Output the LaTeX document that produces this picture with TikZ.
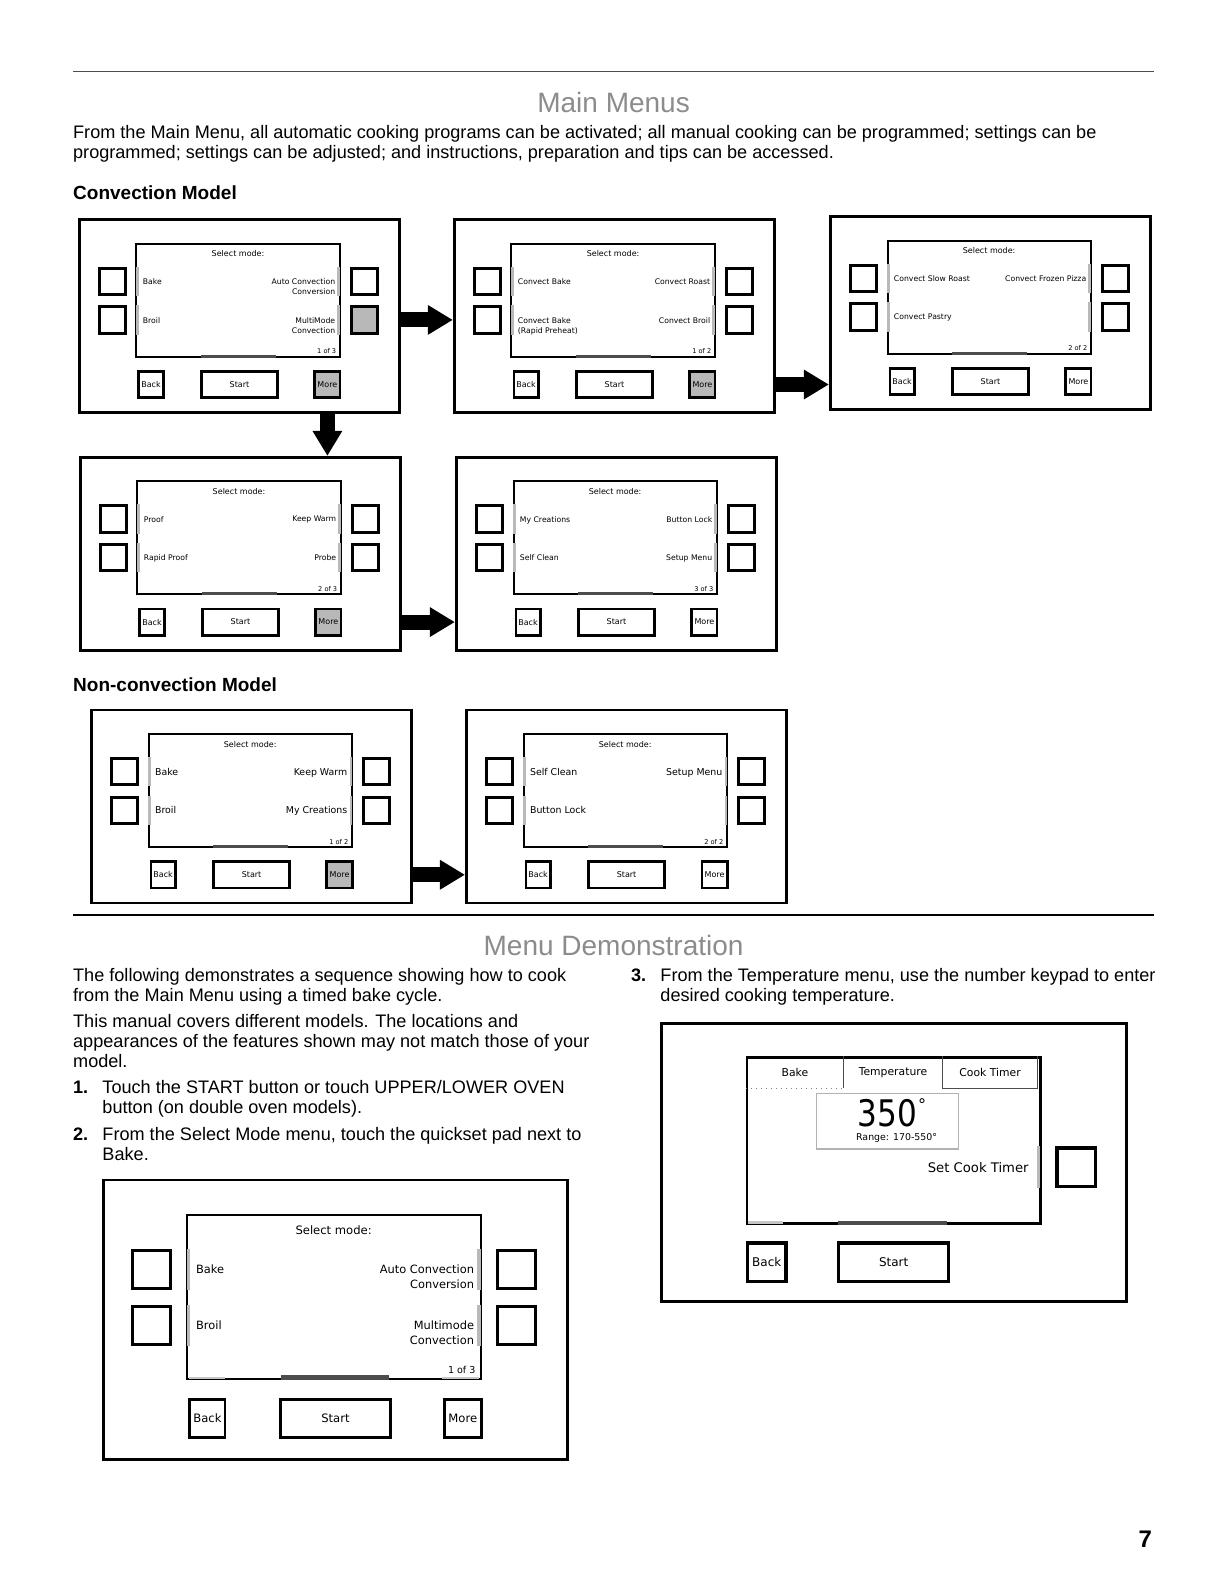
\documentclass[tikz,border=0pt]{standalone}
\usepackage{fontspec}
\setmainfont{Liberation Sans}
\newfontfamily\panelfont{DejaVu Sans}
\newfontfamily\numfont{DejaVu Sans}[FakeStretch=0.85]
\usetikzlibrary{arrows.meta,calc}

\definecolor{shadegray}{gray}{0.72}
\definecolor{titlegray}{gray}{0.55}

\newdimen\pxu
\pxu=0.50536pt

\tikzset{
  boxsize/.style 2 args={minimum width={(#1)*\pxu}, minimum height={(#2)*\pxu}},
  frame/.style={draw, line width=1.4pt, inner sep=0pt, anchor=north west},
  screen/.style={draw, line width=1pt, inner sep=0pt, anchor=north west},
  qbtn/.style={draw, line width=1.5pt, inner sep=0pt, anchor=north west},
  bbtn/.style={draw, line width=1.4pt, inner sep=0pt, anchor=north west},
  selbar/.style={draw=gray!55},
  scrollbar/.style={draw=black!70},
  lightbar/.style={draw=gray!45, line width=1.2pt},
  tabline/.style={draw=black!70, line width=0.5pt},
  bigarrow/.style={line width=7.5pt, -{Triangle[length=12.5pt,width=14pt]}},
  btnfont/.style={font=\panelfont\fontsize{\ptf pt}{\ptf pt}\selectfont},
  itemlab/.style={inner sep=0pt, font=\panelfont\fontsize{\pf pt}{\plf pt}\selectfont},
  pagelab/.style={inner sep=0pt, font=\panelfont\fontsize{\ppf pt}{\ppf pt}\selectfont},
  body/.style={inner sep=0pt, anchor=base west, font=\fontsize{9.05pt}{11pt}\selectfont},
  num/.style={inner sep=0pt, anchor=base west, font=\bfseries\fontsize{9.05pt}{11pt}\selectfont},
  heading/.style={inner sep=0pt, anchor=base west, font=\bfseries\fontsize{9.5pt}{11pt}\selectfont},
  title/.style={inner sep=0pt, anchor=base, text=titlegray, font=\fontsize{14pt}{16pt}\selectfont},
  more btn/.style={}, r2 btn/.style={}
}

% one control panel: name, left, top, scale, item font size
\newcommand{\menupanel}[5]{%
  \pgfmathsetmacro\ps{#4}%
  \pgfmathsetmacro\pf{#5}%
  \pgfmathsetmacro\plf{1.3*#5}%
  \pgfmathsetmacro\ptf{4*#4}%
  \pgfmathsetmacro\ppf{3.3*#4}%
  \node[frame, boxsize={317*\ps}{191*\ps}] (#1) at (#2,#3) {};
  \node[screen, boxsize={201*\ps}{112*\ps}] (#1-scr) at ({#2+57*\ps},{#3+24*\ps}) {};
  \node[qbtn, boxsize={26*\ps}{26*\ps}] (#1-l1) at ({#2+20*\ps},{#3+48*\ps}) {};
  \node[qbtn, boxsize={26*\ps}{26*\ps}] (#1-l2) at ({#2+20*\ps},{#3+86*\ps}) {};
  \node[qbtn, boxsize={26*\ps}{26*\ps}] (#1-r1) at ({#2+269*\ps},{#3+48*\ps}) {};
  \node[qbtn, r2 btn, boxsize={26*\ps}{26*\ps}] (#1-r2) at ({#2+269*\ps},{#3+86*\ps}) {};
  \node[bbtn, btnfont, boxsize={24*\ps}{26*\ps}] (#1-back) at ({#2+59*\ps},{#3+150*\ps}) {Back};
  \node[bbtn, btnfont, boxsize={75*\ps}{26*\ps}] (#1-start) at ({#2+121*\ps},{#3+150*\ps}) {Start};
  \node[bbtn, btnfont, more btn, boxsize={25*\ps}{26*\ps}] (#1-more) at ({#2+233*\ps},{#3+150*\ps}) {More};
  \node[btnfont, anchor=base, inner sep=0pt] (#1-head) at ($(#1-scr.north)+(0,14*\ps)$) {Select mode:};
  \foreach \side in {l1,l2}
    \draw[selbar, line width=1.2pt*\ps] ($(#1-scr.west |- #1-\side.north)+(2*\ps,0)$) -- ($(#1-scr.west |- #1-\side.south)+(2*\ps,0)$);
  \foreach \side in {r1,r2}
    \draw[selbar, line width=1.2pt*\ps] ($(#1-scr.east |- #1-\side.north)+(-2*\ps,0)$) -- ($(#1-scr.east |- #1-\side.south)+(-2*\ps,0)$);
  \draw[scrollbar, line width=1.4pt*\ps] ($(#1-scr.south west)+(65*\ps,-1.5*\ps)$) -- ++({74*\ps},0);
}

% texts on the screen: name, left 1, left 2, right 1, right 2, page
\newcommand{\menulabels}[6]{%
  \node[itemlab, anchor=north west, align=left] (#1-tl1) at ($(#1-scr.west |- #1-l1)+(7*\ps,-0.8*\pf)$) {#2};
  \node[itemlab, anchor=north west, align=left] (#1-tl2) at ($(#1-scr.west |- #1-l2)+(7*\ps,-0.8*\pf)$) {#3};
  \node[itemlab, anchor=north east, align=right] (#1-tr1) at ($(#1-scr.east |- #1-r1)+(-5*\ps,-0.8*\pf)$) {#4};
  \node[itemlab, anchor=north east, align=right] (#1-tr2) at ($(#1-scr.east |- #1-r2)+(-5*\ps,-0.8*\pf)$) {#5};
  \node[pagelab, anchor=base east] (#1-page) at ($(#1-scr.south east)+(-4*\ps,-4*\ps)$) {#6};
}

\begin{document}
\begin{tikzpicture}[x=0.50536pt, y=-0.50536pt]
\fill[white] (0,0) rectangle (1212,1568);
\useasboundingbox (0,0) rectangle (1212,1568);

% Main Menus
\draw[black!70, line width=0.7pt] (72,71) -- (1142,71);
\node[title] (main-title) at (607,111) {Main Menus};
\node[body] (intro1) at (72,137) {From the Main Menu, all automatic cooking programs can be activated; all manual cooking can be programmed; settings can be};
\node[body] (intro2) at (72,157) {programmed; settings can be adjusted; and instructions, preparation and tips can be accessed.};
\node[heading] (conv-head) at (72,197) {Convection Model};

\begin{scope}[r2 btn/.style={fill=shadegray}, more btn/.style={fill=shadegray}]
\menupanel{p1}{77}{216}{1}{3.85}
\menulabels{p1}{Bake}{Broil}{Auto Convection\\Conversion}{MultiMode\\Convection}{1 of 3}
\end{scope}

\begin{scope}[more btn/.style={fill=shadegray}]
\menupanel{p2}{448}{216}{1}{3.85}
\menulabels{p2}{Convect Bake}{Convect Bake\\(Rapid Preheat)}{Convect Roast}{Convect Broil}{1 of 2}
\end{scope}

\begin{scope}
\menupanel{p3}{820}{213}{1}{3.85}
\menulabels{p3}{Convect Slow Roast}{Convect Pastry}{Convect Frozen Pizza}{}{2 of 2}
\end{scope}

\begin{scope}[more btn/.style={fill=shadegray}]
\menupanel{p4}{78}{451}{1}{3.85}
\menulabels{p4}{Proof}{Rapid Proof}{Keep Warm}{Probe}{2 of 3}
\end{scope}

\begin{scope}
\menupanel{p5}{450}{451}{1}{3.85}
\menulabels{p5}{My Creations}{Self Clean}{Button Lock}{Setup Menu}{3 of 3}
\end{scope}

\draw[bigarrow] (p1-r2 -| p1.east) -- (p1-r2 -| p2.west);
\draw[bigarrow] (p2-more -| p2.east) -- (p2-more -| p3.west);
\draw[bigarrow] (p1-more |- p1.south) -- (p1-more |- p4.north);
\draw[bigarrow] (p4-more -| p4.east) -- (p4-more -| p5.west);

% Non-convection
\node[heading] (nonconv-head) at (72,684) {Non-convection Model};

\begin{scope}[more btn/.style={fill=shadegray}]
\menupanel{p6}{89}{701}{1}{4.7}
\menulabels{p6}{Bake}{Broil}{Keep Warm}{My Creations}{1 of 2}
\end{scope}

\begin{scope}
\menupanel{p7}{460}{701}{1}{4.7}
\menulabels{p7}{Self Clean}{Button Lock}{Setup Menu}{}{2 of 2}
\end{scope}

\draw[bigarrow] (p6-more -| p6.east) -- (p6-more -| p7.west);

% Menu Demonstration
\draw[black, line width=0.8pt] (72,905) -- (1142,905);
\node[title] (demo-title) at (607,945) {Menu Demonstration};

\node[body] (demo1) at (72,971) {The following demonstrates a sequence showing how to cook};
\node[body] (demo2) at (72,991) {from the Main Menu using a timed bake cycle.};
\node[body] (demo3) at (72,1016) {This manual covers different models. The locations and};
\node[body] (demo4) at (72,1036) {appearances of the features shown may not match those of your};
\node[body] (demo5) at (72,1056) {model.};
\node[num] (n1) at (72,1082) {1.};
\node[body] (step1a) at (101,1082) {Touch the START button or touch UPPER/LOWER OVEN};
\node[body] (step1b) at (101,1102) {button (on double oven models).};
\node[num] (n2) at (72,1128) {2.};
\node[body] (step2a) at (101,1128) {From the Select Mode menu, touch the quickset pad next to};
\node[body] (step2b) at (101,1148) {Bake.};
\node[num] (n3) at (624,971) {3.};
\node[body] (step3a) at (653,971) {From the Temperature menu, use the number keypad to enter};
\node[body] (step3b) at (653,991) {desired cooking temperature.};

\begin{scope}
\menupanel{p8}{101}{1166}{1.448}{5.7}
\menulabels{p8}{Bake}{Broil}{Auto Convection\\Conversion}{Multimode\\Convection}{1 of 3}
\draw[lightbar] ($(p8-scr.south west)+(3,-2)$) -- ++(36,0);
\draw[lightbar] ($(p8-scr.south east)+(-3,-2)$) -- ++(-36,0);
\end{scope}

% temperature screen
\node[frame, line width=1.5pt, boxsize={460}{275}] (t-frame) at (653,1011) {};
\node[screen, line width=1.2pt, boxsize={290}{164}] (t-scr) at (738,1045) {};
\node[inner sep=0pt, anchor=north west, font=\panelfont\fontsize{5.4pt}{6pt}\selectfont, boxsize={96}{31}] (t-bake) at (738,1045) {Bake};
\node[inner sep=0pt, anchor=north west, font=\panelfont\fontsize{5.4pt}{6pt}\selectfont, boxsize={98}{31}] (t-temp) at (834,1045) {Temperature};
\node[inner sep=0pt, anchor=north west, font=\panelfont\fontsize{5.4pt}{6pt}\selectfont, boxsize={94}{31}] (t-timer) at (932,1045) {Cook Timer};
\draw[tabline] (t-bake.north east) -- (t-bake.south east);
\draw[tabline] (t-timer.north west) -- (t-timer.south west) -- (t-timer.south east) -- (t-timer.north east);
\draw[tabline, draw=gray, dotted] (t-bake.south west) -- (t-bake.south east);
\node[draw=gray!60, line width=0.6pt, inner sep=0pt, anchor=north west, boxsize={141}{55}] (t-val) at (807,1081) {};
\node[inner sep=0pt, anchor=base, font=\numfont\fontsize{18.3pt}{20pt}\selectfont] (t-num) at (878,1114) {350};
\node[inner sep=0pt, anchor=north west, font=\panelfont\fontsize{8pt}{8pt}\selectfont] (t-deg) at (t-num.north east) {°};
\node[inner sep=0pt, anchor=base, font=\panelfont\fontsize{4.7pt}{5pt}\selectfont] (t-range) at (887,1128) {Range: 170-550°};
\node[inner sep=0pt, anchor=base east, font=\panelfont\fontsize{6.6pt}{7pt}\selectfont] (t-settimer) at (1018,1160) {Set Cook Timer};
\node[qbtn, line width=1.6pt, boxsize={38}{38}] (t-btn) at (1044,1134) {};
\draw[selbar, line width=1.6pt] ($(t-scr.east |- t-btn.north)+(-3,0)$) -- ($(t-scr.east |- t-btn.south)+(-3,0)$);
\node[bbtn, line width=1.6pt, font=\panelfont\fontsize{6pt}{6pt}\selectfont, boxsize={38}{38}] (t-back) at (738,1228) {Back};
\node[bbtn, line width=1.6pt, font=\panelfont\fontsize{6pt}{6pt}\selectfont, boxsize={109}{38}] (t-start) at (828,1228) {Start};
\draw[scrollbar, line width=2pt] ($(t-scr.south west)+(91,-2)$) -- ++(108,0);
\draw[lightbar] ($(t-scr.south west)+(2,-2)$) -- ++(35,0);

\node[inner sep=0pt, anchor=base, font=\bfseries\fontsize{12pt}{14pt}\selectfont] (pagenum) at (1133,1531) {7};
\end{tikzpicture}
\end{document}
